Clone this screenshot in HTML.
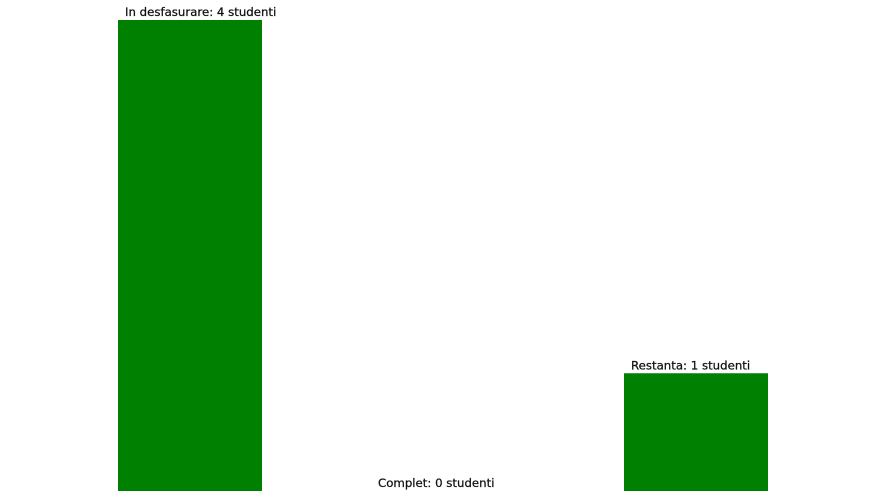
<!DOCTYPE html>
<html><head><meta charset="utf-8"><style>
html,body{margin:0;padding:0;background:#fff;width:887px;height:501px;overflow:hidden}
svg text{font-family:"DejaVu Sans","Liberation Sans",sans-serif;font-size:11.75px;fill:#111;stroke:#111;stroke-width:0.25px}
</style></head><body>
<svg id="chart" width="887" height="501" xmlns="http://www.w3.org/2000/svg"></svg>
<script>
const categories = ["In desfasurare", "Complet", "Restanta"];
const values = [4, 0, 1];
const unit = "studenti";

const svg = document.getElementById('chart');
const NS = 'http://www.w3.org/2000/svg';
const baseY = 491, topY = 20, maxV = 4;
const x0 = 118, step = 253, bw = 144;
function yScale(v){ return baseY - (v / maxV) * (baseY - topY); }
function xScale(i){ return x0 + i * step; }

categories.forEach((c, i) => {
  const v = values[i];
  const y = yScale(v);
  const r = document.createElementNS(NS, 'rect');
  r.setAttribute('x', xScale(i));
  r.setAttribute('y', y);
  r.setAttribute('width', bw);
  r.setAttribute('height', baseY - y);
  r.setAttribute('fill', '#008000');
  
  
  svg.appendChild(r);
  const t = document.createElementNS(NS, 'text');
  t.setAttribute('x', xScale(i) + 7);
  t.setAttribute('y', y - 4);
  t.textContent = c + ': ' + v + ' ' + unit;
  
  
  svg.appendChild(t);
});
</script>
</body></html>
